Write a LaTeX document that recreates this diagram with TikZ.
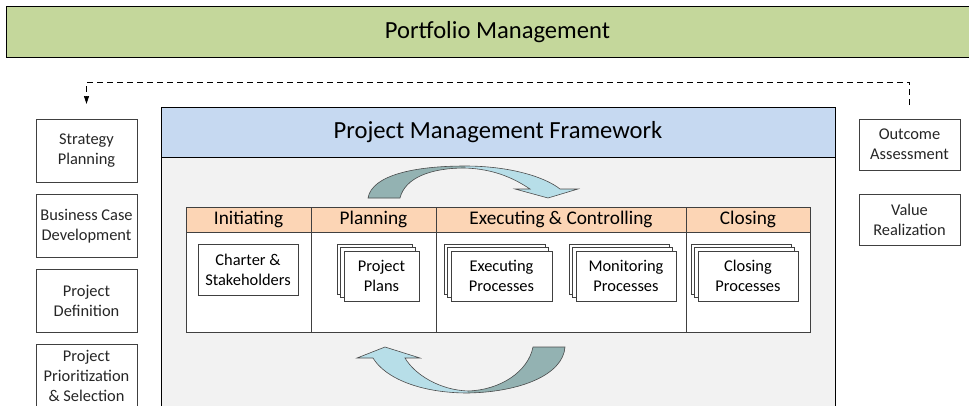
\documentclass[tikz,border=0pt]{standalone}
\usepackage{fontspec}
\setmainfont{Carlito}
\usetikzlibrary{shadows,arrows.meta,positioning}

\definecolor{portgreen}{HTML}{C4D79B}
\definecolor{frameblue}{HTML}{C6D9F1}
\definecolor{framegray}{HTML}{F2F2F2}
\definecolor{phaseorange}{HTML}{FCD5B5}
\definecolor{arrowdark}{HTML}{93B2B2}
\definecolor{arrowlight}{HTML}{B7DEE8}
\definecolor{lineg}{HTML}{404040}

% outlines of the two curved arrows
\newcommand{\toparrow}{(368,198) .. controls (372,175) and (415,166) .. (465,166)
  .. controls (510,166) and (545,177) .. (560,189) -- (578,189) -- (548,198) -- (515,189) -- (530,189)
  .. controls (515,179) and (495,169) .. (465,168) .. controls (430,168) and (405,178) .. (400,198) -- cycle}
\newcommand{\botarrow}{(533,347) -- (565,347) .. controls (563,375) and (520,392) .. (468,393)
  .. controls (420,393) and (385,378) .. (373,358) -- (357,358) -- (385,347) -- (420,358) -- (405,358)
  .. controls (415,375) and (440,390) .. (468,391) .. controls (500,390) and (528,372) .. (533,347) -- cycle}

\begin{document}
\begin{tikzpicture}[x=1pt,y=-1pt,font=\fontsize{16.4}{20}\selectfont,
  sidebox/.style={draw=lineg,fill=white,align=center,minimum width=101pt,inner sep=1pt,text=black!85},
  phasehead/.style={draw=lineg,fill=phaseorange,minimum height=25pt,inner sep=0pt,font=\fontsize{19.3}{22}\selectfont},
  phasebody/.style={draw=lineg,fill=white,minimum height=100pt,inner sep=0pt},
  procbox/.style={draw=lineg,fill=white,align=center,minimum height=50pt,inner sep=1pt},
  stackbox/.style={procbox,
    copy shadow={shadow xshift=-7pt,shadow yshift=7pt,fill=white,draw=lineg},
    copy shadow={shadow xshift=-3.5pt,shadow yshift=3.5pt,fill=white,draw=lineg}},
  arrowline/.style={draw=black!70,line width=0.6pt}]
\useasboundingbox (0,0) rectangle (969,405);

% portfolio bar
\node[draw=black,fill=portgreen,minimum width=983pt,minimum height=51pt,
  font=\fontsize{24.6}{28}\selectfont] (portfolio) at (497.5,32) {Portfolio Management};

% framework box
\node[draw=black,fill=framegray,minimum width=674pt,minimum height=270pt] (pmfbody) at (498,292) {};
\node[draw=black,fill=frameblue,minimum width=674pt,minimum height=50pt,
  font=\fontsize{24.6}{28}\selectfont] (pmf) at (498,132) {Project Management Framework};

% left boxes
\node[sidebox,minimum height=63pt] (strat) at (86.5,150.5) {Strategy\\Planning};
\node[sidebox,minimum height=63pt] (bcase) at (86.5,226) {Business Case\\Development};
\node[sidebox,minimum height=63pt] (pdef) at (86.5,301) {Project\\Definition};
\node[sidebox,minimum height=63pt] (prio) at (86.5,376) {Project\\Prioritization\\\& Selection};

% right boxes
\node[sidebox,minimum height=51pt] (outcome) at (909.5,144.5) {Outcome\\Assessment};
\node[sidebox,minimum height=51pt] (value) at (909.5,219.5) {Value\\Realization};

% feedback loop
\coordinate (fbstart) at (909.5,105);
\coordinate (fbend) at (86.5,104);
\draw[black,line width=0.7pt,dash pattern=on 6pt off 4pt,-{Triangle[length=8pt,width=5pt]}]
  (fbstart) -- ++(0,-23) -| (fbend);

% phases
\node[phasehead,minimum width=125pt] (init) at (248.5,219.5) {Initiating};
\node[phasehead,minimum width=125pt] (plan) at (373.5,219.5) {Planning};
\node[phasehead,minimum width=250pt] (exec) at (561,219.5) {Executing \& Controlling};
\node[phasehead,minimum width=124pt] (close) at (748,219.5) {Closing};

\node[phasebody,minimum width=125pt,below=0pt of init] (initb) {};
\node[phasebody,minimum width=125pt,below=0pt of plan] (planb) {};
\node[phasebody,minimum width=250pt,below=0pt of exec] (execb) {};
\node[phasebody,minimum width=124pt,below=0pt of close] (closeb) {};

% process boxes
\node[procbox,minimum width=100pt,minimum height=51pt] (charter) at (248,269.5) {Charter \&\\Stakeholders};
\node[stackbox,minimum width=75pt] (plans) at (381.5,276) {Project\\Plans};
\node[stackbox,minimum width=101pt] (execp) at (501.5,276) {Executing\\Processes};
\node[stackbox,minimum width=100pt] (monp) at (626,276) {Monitoring\\Processes};
\node[stackbox,minimum width=100pt] (closep) at (748,276) {Closing\\Processes};

% curved arrows
\fill[arrowlight] \toparrow;
\begin{scope}
\clip (0,0) rectangle (465,405);
\fill[arrowdark] \toparrow;
\end{scope}
\path[arrowline] \toparrow;

\fill[arrowlight] \botarrow;
\begin{scope}
\clip (468,0) rectangle (969,405);
\fill[arrowdark] \botarrow;
\end{scope}
\path[arrowline] \botarrow;

\end{tikzpicture}
\end{document}
